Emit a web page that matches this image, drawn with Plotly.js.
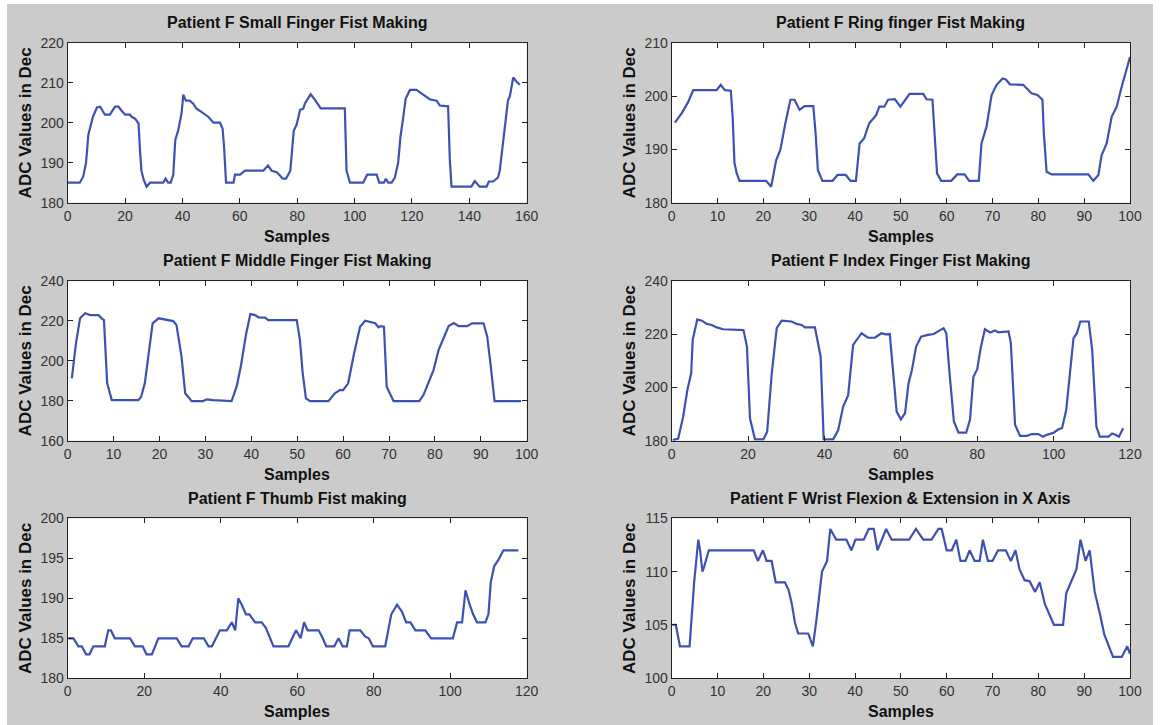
<!DOCTYPE html>
<html><head><meta charset="utf-8">
<script src="https://cdn.plot.ly/plotly-3.0.1.min.js"></script>
<style>html,body{margin:0;padding:0;background:#fff;} #chart{position:absolute;left:7px;top:4px;width:1146px;height:721px;}</style>
</head><body><div id="chart"></div>
<script>
// ---- Data ----
const panelTitles = [
  "Patient F Small Finger Fist Making",
  "Patient F Ring finger Fist Making",
  "Patient F Middle Finger Fist Making",
  "Patient F Index Finger Fist Making",
  "Patient F Thumb Fist making",
  "Patient F Wrist Flexion & Extension in X Axis"
];
const xTitle = "Samples";
const yTitle = "ADC Values in Dec";

const smallX = [0,4.2,5.4,6.4,7.2,8.8,10.2,11.3,13,14.7,16.5,17.7,18.8,20,21.7,22.2,23.5,24.7,25.2,25.7,26.5,27.5,28.7,33.3,34.1,35,35.9,36.8,37.5,38.5,39.7,40.3,41.2,42.5,43.7,44.9,46,47.8,49,50.8,53.1,54,54.5,55.2,57.8,58.3,60.1,61.8,68.2,69.8,71.1,72.9,75,76.1,77.6,78.8,79.8,81,82.1,82.7,84.7,86.2,88.2,96.6,97.2,98.4,103,104.4,107.7,108.6,110.2,110.9,111.7,112.9,114,115.2,116,117,117.8,119.3,121.6,122.8,124.5,126.3,128.6,129.7,132.6,133.2,133.8,140.7,141.9,143.6,146,146.8,148.3,150,150.6,151.8,153.5,154.1,155.3,156.4,157.6];
const smallY = [185,185,186.5,190,197,201.5,203.8,204,202,202,204,204,203,202,202,201.5,201,199.8,193,188,185.7,184,185,185,186,185,185,187,195.7,198,202.4,207,205.5,205.5,204.8,203.5,203,202,201.5,200,200,198.5,194,185,185,187,187,188,188,189.3,188,187.6,186,186,188,198,199.5,203.2,203.5,204.8,207.1,205.7,203.6,203.6,188,185,185,187,187,185,185,186,185,185,186.2,190,196.5,201.5,206,208.2,208.2,207.6,206.8,205.8,205.5,204.3,204.1,190.7,184,184,185.4,184,184,185.3,185.3,186.3,188,195.7,205.7,206.5,211.3,210.3,209.5];

const ringX = [0.7,2.2,3.6,4.7,9.8,10.7,11.6,12.9,13.3,13.7,14.2,14.8,20.6,21.7,22.8,23.7,24.8,25.9,26.8,27.9,29,30.9,31.4,31.9,32.9,35.1,36.2,38,39,40.2,41,42,43.1,44.6,45.3,46.4,47.2,48.7,49.9,51.9,54.9,55.6,56.9,57.4,57.9,58.8,61,62.3,63.9,64.9,67,67.6,68.7,69.8,70.9,72.2,72.9,73.8,76.7,78.5,79.8,80.9,81.2,81.8,82.9,90.9,92,93.1,93.8,94.9,96,97.1,98.2,100];
const ringY = [195,196.8,198.9,201.1,201.1,202.1,201.1,201,196.1,187.4,185.5,184.1,184.1,183,188,189.9,194.9,199.3,199.3,197.4,198.1,198.1,193,186.1,184.1,184.1,185.2,185.2,184.1,184.1,191.1,192.1,194.9,196.4,198,198,199.3,199.4,198,200.4,200.4,199.4,199.3,193,185.5,184.1,184.1,185.3,185.3,184.1,184.1,191.1,194.3,200.2,202.1,203.3,203.1,202.2,202.1,200.5,200.2,199.3,193,185.8,185.3,185.3,184.1,185.2,188.9,191.1,196.1,198,201.8,207.3];

const middleX = [0.9,1.8,2.7,3.8,4.9,6.7,7.4,7.9,8.6,9.6,15.4,16,16.8,18.5,19.8,21.6,23,23.7,24.8,25.6,27,29.5,30.3,31.7,35.7,36.8,37.7,38.9,39.8,40.8,41.6,43,43.7,49.9,50.6,51.2,51.9,52.8,56.8,58.2,59.3,60,61.1,62.4,63.7,64.8,65.9,67,67.7,68.2,68.9,69.5,71,76.6,77.5,79.7,80.8,81.9,83,84.1,85.2,87,88.1,90.6,91.4,92.1,93,98.8];
const middleY = [191.2,208.7,221.2,223.7,222.8,222.8,221.2,220.3,188.7,180.3,180.3,182,188.7,218.7,221.2,220.3,219.8,217.8,202,183.7,179.8,179.8,180.7,180.3,179.8,187,197,213.7,223.3,222.8,221.7,221.5,220.3,220.3,210.3,193.7,181.2,179.8,179.8,183.7,185.3,185.3,188.7,203.7,217,220,219.5,218.7,216.7,217.3,217,187,179.8,179.8,182.8,195.3,205.3,211,217.3,218.8,217.3,217.3,218.7,218.7,212,198.7,179.8,179.8];

const indexX = [0.3,1.7,3,4.1,5.1,5.5,6.7,7.9,9.2,10.5,11.8,13.5,18.8,19.7,20.5,21.8,24,25,26.2,27.5,28.8,31.4,32.7,34,34.9,37.5,39,39.8,42.3,43.6,44.9,46.2,47.5,49.7,51.4,53.2,54.9,56,57.1,57.6,58.9,60,61.1,62,62.9,64,65.3,66.8,68.6,71.2,71.9,72.9,73.9,75.1,77.1,78.1,79,80,80.9,82,83.4,84.7,85.5,88.2,88.8,89.9,91.2,93,94.3,96,97.2,98.2,100,101.3,102.2,103.3,104.4,105.2,106.1,107,109.2,110.1,111.2,112.1,114.4,115.3,116.2,117.1,118.2];
const indexY = [180.2,180.8,189,199,205.3,217.8,225.5,225,223.8,223.4,222.5,221.8,221.5,215.3,188.4,180.5,180.5,183.4,205.3,222.2,225,224.7,223.8,223.4,222.5,222.5,211.5,180.5,180.5,184,192.8,197.1,215.9,220.3,218.6,218.6,220.3,219.9,220,211.5,190.9,188,190.3,201.5,206.5,215.3,219,219.6,220,222.2,220.3,202.8,187.1,183,183,187.8,204,206.8,214.7,221.8,220.6,221.3,220.6,221,216.6,186,181.8,181.8,182.5,182.5,181.5,182.2,183,184.3,184.7,191.5,207.8,218.4,220.3,224.7,224.7,214,185.3,181.5,181.5,182.7,182.2,181.5,184.7];

const thumbX = [0.2,1.5,2.8,3.7,4.8,5.7,6.7,9.7,10.6,11.3,12.3,16.3,17.6,19.6,20.6,22,23.7,28.5,29.8,31.6,32.7,35.6,36.8,37.7,39.8,41.6,42.9,43.8,44.6,45.5,46.6,47.5,49,50.7,51.8,52.9,53.8,57.7,59.7,60.9,61.8,62.7,65.6,66.5,67.6,69.7,70.8,71.9,73,73.7,76.5,77.8,78.7,79.8,83,84.6,86.1,87.4,88.5,89.6,90.9,93.5,95,100.7,101.8,103.1,104,105.1,106,107,109.2,110,110.6,111.5,112.6,113.9,117.8];
const thumbY = [185,185,184,184,183,183,184,184,186,186,185,185,184,184,183,183,185,185,184,184,185,185,184,184,186,186,187,186,190,189.2,188,188,187,187,186.3,185,184,184,186,185,187,186,186,185.2,184,184,185,184,184,186,186,185.2,185,184,184,188,189.2,188.3,187,187,186,186,185,185,187,187,191,189.2,188,187,187,188,192,194,194.8,196,196];

const wristX = [0.2,0.9,1.8,3.9,4.4,4.9,5.8,6.2,6.7,7.1,8.1,17.9,18.8,19.9,20.7,21.8,22.7,24.7,25.5,26.2,26.9,27.6,29.8,30.8,31.5,32.2,32.8,33.9,34.6,35.9,38.1,39.2,40.1,41.9,43,44.1,44.9,46.8,48,51.8,53.3,54.9,56.7,58.2,58.9,60,61.1,62.1,63,64.1,65,66.1,67.2,67.9,69,70,71.2,72.9,74,75,75.9,77,78.1,79.3,80.3,81.4,82.5,83.4,85.4,86.1,87.2,88.3,89.2,90.3,91.2,92.3,93.4,94.4,96.3,98.2,99.4,100];
const wristY = [105,105,103,103,106,109,113,112,110,110.5,112,112,111,112,111,111,109,109,108.3,107,105.2,104.2,104.2,103,105.2,107.7,110,111,114,113,113,112,113,113,114,114,112,114,113,113,114,113,113,114,114,112,112,113,111,111,112,111,111,113,111,111,112,112,111,112,110.2,109.2,109.1,108.1,109,107,105.9,105,105,108,109.1,110.2,113,111,112,108.1,106.1,104.1,102,102,103,102.3];

const xRanges = [[0,160],[0,100],[0,100],[0,120],[0,120],[0,100]];
const xDticks = [20,10,10,20,20,10];
const yRanges = [[180,220],[180,210],[160,240],[180,240],[180,200],[100,115]];
const yDticks = [10,10,20,20,5,5];

const seriesX = [smallX, ringX, middleX, indexX, thumbX, wristX];
const seriesY = [smallY, ringY, middleY, indexY, thumbY, wristY];

// ---- Layout geometry (px within the chart div) ----
const W = 1146, H = 721;
const colPx = [[60.7, 519.7], [664.7, 1123]];
const rowPx = [[38.7, 198.7], [276.7, 436.7], [514.3, 674.3]];
const FONT = '"Liberation Sans", Arial, sans-serif';
const lineColor = '#3d51b4';

const traces = [];
const layout = {
  width: W, height: H,
  margin: {l: 0, r: 0, t: 0, b: 0},
  paper_bgcolor: '#cbcbcb',
  plot_bgcolor: '#ffffff',
  showlegend: false,
  font: {family: FONT, color: '#222'},
  annotations: []
};

for (let i = 0; i < 6; i++) {
  const c = i % 2, r = Math.floor(i / 2);
  const n = i === 0 ? '' : String(i + 1);
  const xa = 'xaxis' + n, ya = 'yaxis' + n;
  traces.push({
    x: seriesX[i], y: seriesY[i], type: 'scatter', mode: 'lines',
    xaxis: 'x' + n, yaxis: 'y' + n,
    line: {color: lineColor, width: 2.2},
    hoverinfo: 'x+y'
  });
  const common = {
    ticks: 'inside', ticklen: 5, tickwidth: 1, tickcolor: '#222',
    showline: true, linecolor: '#222', linewidth: 1, mirror: 'ticks',
    showgrid: false, zeroline: false,
    tickfont: {family: FONT, size: 14, color: '#333'}
  };
  const [x0, x1] = colPx[c];
  const [yt, yb] = rowPx[r];
  layout[xa] = Object.assign({}, common, {
    domain: [x0 / W, x1 / W], anchor: 'y' + n,
    range: xRanges[i], dtick: xDticks[i], tick0: 0
  });
  layout[ya] = Object.assign({}, common, {
    domain: [1 - yb / H, 1 - yt / H], anchor: 'x' + n,
    range: yRanges[i], dtick: yDticks[i], tick0: yRanges[i][0]
  });
  const cx = (x0 + x1) / 2 / W;
  // subplot title
  layout.annotations.push({
    xref: 'paper', yref: 'paper', x: cx, y: 1 - (yt - 20) / H,
    xanchor: 'center', yanchor: 'middle', showarrow: false,
    text: panelTitles[i],
    font: {family: FONT, size: 16, color: '#111', weight: 'bold'}
  });
  // x axis title
  layout.annotations.push({
    xref: 'paper', yref: 'paper', x: cx, y: 1 - (yb + 33.5) / H,
    xanchor: 'center', yanchor: 'middle', showarrow: false,
    text: xTitle,
    font: {family: FONT, size: 16, color: '#111', weight: 'bold'}
  });
  // y axis title
  layout.annotations.push({
    xref: 'paper', yref: 'paper', x: (x0 - 42) / W, y: 1 - (yt + yb) / 2 / H,
    xanchor: 'center', yanchor: 'middle', showarrow: false, textangle: -90,
    text: yTitle,
    font: {family: FONT, size: 17, color: '#111', weight: 'bold'}
  });
}

Plotly.newPlot('chart', traces, layout, {displayModeBar: false, staticPlot: true});
</script></body></html>
